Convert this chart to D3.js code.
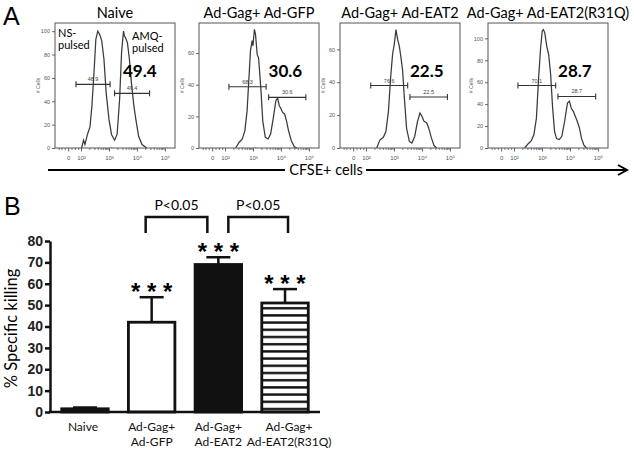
<!DOCTYPE html>
<html>
<head>
<meta charset="utf-8">
<script src="https://cdn.jsdelivr.net/npm/d3@7"></script>
<style>
  body { margin: 0; background: #fff; }
  svg { display: block; }
</style>
</head>
<body>
<svg id="fig" width="634" height="450"></svg>
<script>
// ---------- panel A: CFSE histograms ----------
const cfseTitles = ["Naive", "Ad-Gag+ Ad-GFP", "Ad-Gag+ Ad-EAT2", "Ad-Gag+ Ad-EAT2(R31Q)"];

// [log10 CFSE, # cells]
const histNaive = [[2.02,0],[2.09,6.7],[2.14,3],[2.23,11.6],[2.32,18],[2.39,36],[2.47,67],[2.53,93],[2.6,100],[2.67,97],[2.74,92],[2.82,76],[2.9,47],[3.0,24.5],[3.09,11.6],[3.2,6.7],[3.29,11.6],[3.38,41.6],[3.45,82],[3.52,100],[3.55,96],[3.59,94.5],[3.66,90],[3.73,76],[3.8,56],[3.89,36],[3.96,24.5],[4.06,10],[4.18,3],[4.35,0]];
const histGFP = [[2.38,0],[2.5,3.5],[2.62,5.7],[2.71,11],[2.79,23.6],[2.85,42.5],[2.91,61.5],[2.97,67.8],[3.0,64.6],[3.05,75],[3.09,72],[3.15,59],[3.2,57],[3.28,38],[3.35,17],[3.44,6.7],[3.54,5.7],[3.63,8.8],[3.73,19.3],[3.82,30],[3.88,31.5],[3.94,26.7],[3.99,25.3],[4.06,22.5],[4.13,21.5],[4.2,17],[4.27,11],[4.37,4.6],[4.48,0.8],[4.57,0]];
const histEAT2 = [[2.38,0],[2.5,5],[2.62,6.5],[2.71,10],[2.8,22],[2.88,42.7],[2.95,57],[3.01,63],[3.07,72],[3.13,66],[3.19,62],[3.25,55],[3.31,47],[3.37,30.5],[3.45,12],[3.55,4],[3.64,3],[3.74,7],[3.84,16],[3.93,21.3],[4.0,19.3],[4.07,16.3],[4.17,15.2],[4.24,12.2],[4.34,6],[4.43,1.6],[4.52,0]];
const histR31Q = [[2.38,0],[2.5,3.7],[2.62,6.7],[2.71,12],[2.8,27],[2.88,64],[2.95,91],[3.01,107],[3.05,108],[3.1,105],[3.17,93],[3.24,85],[3.31,67],[3.38,36.6],[3.45,15],[3.52,8.6],[3.62,7.7],[3.71,10.7],[3.81,24.4],[3.91,41],[3.98,42.7],[4.05,36],[4.12,33.5],[4.19,29],[4.26,24.4],[4.34,18.3],[4.41,9],[4.5,2.5],[4.59,0]];
const histograms = [histNaive, histGFP, histEAT2, histR31Q];

const histYMax = [107, 79, 76, 114];
const histYTicks = [[0,20,40,60,80,100],[0,20,40,60],[0,20,40,60],[0,20,40,60,80,100]];

// gates: [from, to, height] in log10 / # cells
const gatesLow = [[1.82,3.04,54.5],[2.14,3.47,38.7],[2.17,3.49,38],[2.14,3.49,57]];
const gatesHigh = [[3.2,4.45,46.8],[3.56,4.89,32],[3.57,4.91,31],[3.57,4.92,47]];
const lowPct = ["48.9", "68.3", "76.6", "70.1"];
const highPct = ["49.4", "30.6", "22.5", "28.7"];

const xTickVals = [1.54, 2, 3, 4, 5];
const xTickText = ["0", "10²", "10³", "10⁴", "10⁵"];
const xMinorVals = [1.2,1.3,1.42,1.66,1.78,1.9,
  2.3,2.48,2.6,2.7,2.78,2.85,2.9,2.95,
  3.3,3.48,3.6,3.7,3.78,3.85,3.9,3.95,
  4.3,4.48,4.6,4.7,4.78,4.85,4.9,4.95];

// ---------- panel B: % specific killing ----------
const groupLabels = [["Naive"], ["Ad-Gag+", "Ad-GFP"], ["Ad-Gag+", "Ad-EAT2"], ["Ad-Gag+", "Ad-EAT2(R31Q)"]];
const killing = [1.5, 42, 69, 51];
const killingSem = [0.6, 11.7, 3.4, 6.5];
const starLabels = ["", "* * *", "* * *", "* * *"];
const comparisons = [[1, 2, "P<0.05"], [2, 3, "P<0.05"]];
const killTicks = [0, 10, 20, 30, 40, 50, 60, 70, 80];

const svg = d3.select("#fig");
const sans = "Lato, 'Open Sans', sans-serif";
const arial = "'Liberation Sans', Arial, sans-serif";

// stripe pattern for the R31Q bar
const defs = svg.append("defs");
const pat = defs.append("pattern")
  .attr("id", "stripes")
  .attr("patternUnits", "userSpaceOnUse")
  .attr("width", 10).attr("height", 7.2);
pat.append("rect").attr("width", 10).attr("height", 7.2).attr("fill", "#fff");
pat.append("rect").attr("y", 4.6).attr("width", 10).attr("height", 2.4).attr("fill", "#111");

// panel letters
svg.append("text").attr("x", 3).attr("y", 25)
  .attr("font-family", arial).attr("font-size", 25).text("A");
svg.append("text").attr("x", 4).attr("y", 215)
  .attr("font-family", arial).attr("font-size", 25).text("B");

// ---------- draw panel A ----------
const boxLefts = [55, 199, 340, 488];
const boxTop = 23, boxW = 120, boxH = 125;

cfseTitles.forEach((title, i) => {
  const g = svg.append("g").attr("transform", `translate(${boxLefts[i]},${boxTop})`);
  const x = d3.scaleLinear().domain([1.07, 5.36]).range([0, boxW]);
  const y = d3.scaleLinear().domain([0, histYMax[i]]).range([boxH, 0]);

  svg.append("text")
    .attr("x", boxLefts[i] + boxW / 2).attr("y", 18)
    .attr("text-anchor", "middle")
    .attr("font-family", sans).attr("font-size", 14.5)
    .text(title);

  // y axis (tiny)
  const ya = g.append("g").call(d3.axisLeft(y).tickValues(histYTicks[i]).tickSize(3).tickPadding(2));
  ya.select(".domain").remove();
  ya.selectAll("line").attr("stroke", "#666");
  ya.selectAll("text").attr("font-family", arial).attr("font-size", 5.5).attr("fill", "#555");
  g.append("text")
    .attr("transform", `translate(-15,${boxH / 2}) rotate(-90)`)
    .attr("text-anchor", "middle")
    .attr("font-family", arial).attr("font-size", 5).attr("fill", "#555")
    .text("# Cells");

  // x axis minor + major
  const xm = g.append("g").attr("transform", `translate(0,${boxH})`)
    .call(d3.axisBottom(x).tickValues(xMinorVals).tickSize(2).tickFormat(""));
  xm.select(".domain").remove();
  xm.selectAll("line").attr("stroke", "#777");
  const xa = g.append("g").attr("transform", `translate(0,${boxH})`)
    .call(d3.axisBottom(x).tickValues(xTickVals).tickSize(3.5).tickPadding(4)
      .tickFormat((d, k) => xTickText[k]));
  xa.select(".domain").remove();
  xa.selectAll("line").attr("stroke", "#666");
  xa.selectAll("text").attr("font-family", arial).attr("font-size", 6).attr("fill", "#555");

  // histogram
  g.append("path")
    .datum(histograms[i])
    .attr("fill", "none")
    .attr("stroke", "#3a3a3a")
    .attr("stroke-width", 1.25)
    .attr("d", d3.line().x(d => x(d[0])).y(d => y(d[1])));

  g.append("rect").attr("width", boxW).attr("height", boxH)
    .attr("fill", "none").attr("stroke", "#555").attr("stroke-width", 1);

  // gates
  [[gatesLow[i], lowPct[i]], [gatesHigh[i], highPct[i]]].forEach(([gt, lab]) => {
    const gy = y(gt[2]);
    g.append("line").attr("x1", x(gt[0])).attr("x2", x(gt[1]))
      .attr("y1", gy).attr("y2", gy).attr("stroke", "#333").attr("stroke-width", 1.1);
    [gt[0], gt[1]].forEach(v => {
      g.append("line").attr("x1", x(v)).attr("x2", x(v))
        .attr("y1", gy - 3).attr("y2", gy + 3).attr("stroke", "#333").attr("stroke-width", 1.1);
    });
    g.append("text").attr("x", (x(gt[0]) + x(gt[1])) / 2).attr("y", gy - 3)
      .attr("text-anchor", "middle")
      .attr("font-family", arial).attr("font-size", 5.5).attr("fill", "#444")
      .text(lab);
  });

  // big percentage
  g.append("text")
    .attr("x", x(gatesHigh[i][0] + (gatesHigh[i][1] - gatesHigh[i][0]) * (i === 0 ? 0.72 : 0.45)))
    .attr("y", 54)
    .attr("text-anchor", "middle")
    .attr("font-family", sans).attr("font-weight", 700).attr("font-size", 17)
    .text(highPct[i]);
});

// NS / AMQ labels in naive plot
[["NS-", 58, 37], ["pulsed", 58, 49], ["AMQ-", 132, 40], ["pulsed", 132, 52]].forEach(([t, tx, ty]) => {
  svg.append("text").attr("x", tx).attr("y", ty)
    .attr("font-family", sans).attr("font-size", 11).text(t);
});

// CFSE+ cells arrow
const arrowY = 170;
svg.append("line").attr("x1", 48).attr("x2", 626).attr("y1", arrowY).attr("y2", arrowY)
  .attr("stroke", "#000").attr("stroke-width", 2);
svg.append("path")
  .attr("d", `M618,${arrowY - 5}L627,${arrowY}L618,${arrowY + 5}`)
  .attr("fill", "none").attr("stroke", "#000").attr("stroke-width", 2);
svg.append("rect").attr("x", 285).attr("y", arrowY - 8).attr("width", 81).attr("height", 16).attr("fill", "#fff");
svg.append("text").attr("x", 326).attr("y", arrowY + 5)
  .attr("text-anchor", "middle")
  .attr("font-family", sans).attr("font-size", 14.5)
  .text("CFSE+ cells");

// ---------- draw panel B ----------
const xB = d3.scaleBand().domain(d3.range(groupLabels.length))
  .range([50, 320]).paddingInner(0.303).paddingOuter(0.176);
const yB = d3.scaleLinear().domain([0, 80]).range([412, 241]);

const barG = svg.append("g");
const barFill = ["#111", "#fff", "#111", "url(#stripes)"];

// error bars
barG.selectAll("line.err")
  .data(killing)
  .join("line")
  .attr("class", "err")
  .attr("x1", (d, i) => xB(i) + xB.bandwidth() / 2)
  .attr("x2", (d, i) => xB(i) + xB.bandwidth() / 2)
  .attr("y1", d => yB(d))
  .attr("y2", (d, i) => yB(d + killingSem[i]))
  .attr("stroke", "#111").attr("stroke-width", 2.5);
barG.selectAll("line.cap")
  .data(killing)
  .join("line")
  .attr("class", "cap")
  .attr("x1", (d, i) => xB(i) + xB.bandwidth() / 2 - 12)
  .attr("x2", (d, i) => xB(i) + xB.bandwidth() / 2 + 12)
  .attr("y1", (d, i) => yB(d + killingSem[i]))
  .attr("y2", (d, i) => yB(d + killingSem[i]))
  .attr("stroke", "#111").attr("stroke-width", 2.5);

barG.selectAll("rect")
  .data(killing)
  .join("rect")
  .attr("x", (d, i) => xB(i))
  .attr("y", d => yB(d))
  .attr("width", xB.bandwidth())
  .attr("height", d => yB(0) - yB(d))
  .attr("fill", (d, i) => barFill[i])
  .attr("stroke", "#111")
  .attr("stroke-width", 2.8);

// stars
barG.selectAll("text.star")
  .data(killing)
  .join("text")
  .attr("class", "star")
  .attr("x", (d, i) => xB(i) + xB.bandwidth() / 2)
  .attr("y", (d, i) => yB(d + killingSem[i]) + 3)
  .attr("text-anchor", "middle")
  .attr("font-family", arial).attr("font-weight", 700).attr("font-size", 24)
  .text((d, i) => starLabels[i]);

// axes
const yAx = svg.append("g").attr("transform", "translate(50,0)")
  .call(d3.axisLeft(yB).tickValues(killTicks).tickSize(5).tickSizeOuter(0).tickPadding(2));
yAx.select(".domain").attr("stroke", "#111").attr("stroke-width", 2.5);
yAx.selectAll(".tick line").attr("stroke", "#111").attr("stroke-width", 2.5);
yAx.selectAll("text").attr("font-family", arial).attr("font-weight", 700).attr("font-size", 14).attr("fill", "#222");

svg.append("line").attr("x1", 48.8).attr("x2", 320).attr("y1", yB(0)).attr("y2", yB(0))
  .attr("stroke", "#111").attr("stroke-width", 2.5);

const labelNudge = [-2, 0, 0, 4];
const xAx = svg.append("g").attr("transform", `translate(0,${yB(0)})`)
  .call(d3.axisBottom(xB).tickSize(0).tickPadding(10).tickFormat(""));
xAx.select(".domain").remove();
xAx.selectAll(".tick text")
  .attr("font-family", sans).attr("font-size", 12).attr("fill", "#111")
  .each(function (d) {
    const t = d3.select(this);
    groupLabels[d].forEach((line, k) => {
      t.append("tspan").attr("x", labelNudge[d]).attr("dy", k === 0 ? "0.71em" : "1.25em").text(line);
    });
  });

svg.append("text")
  .attr("transform", `translate(17,${(yB(0) + yB(80)) / 2 + 2}) rotate(-90)`)
  .attr("text-anchor", "middle")
  .attr("font-family", sans).attr("font-size", 16.5)
  .text("% Specific killing");

// significance brackets
const bracketTop = 217, bracketBottom = 233;
const armShift = [[-6, -11], [10, 3]];
comparisons.forEach(([a, b, label], k) => {
  const xa = xB(a) + xB.bandwidth() / 2 + armShift[k][0];
  const xb = xB(b) + xB.bandwidth() / 2 + armShift[k][1];
  svg.append("path")
    .attr("d", `M${xa},${bracketBottom}V${bracketTop}H${xb}V${bracketBottom}`)
    .attr("fill", "none").attr("stroke", "#111").attr("stroke-width", 2.5);
  svg.append("text")
    .attr("x", (xa + xb) / 2).attr("y", 210)
    .attr("text-anchor", "middle")
    .attr("font-family", sans).attr("font-size", 14)
    .text(label);
});
</script>
</body>
</html>
